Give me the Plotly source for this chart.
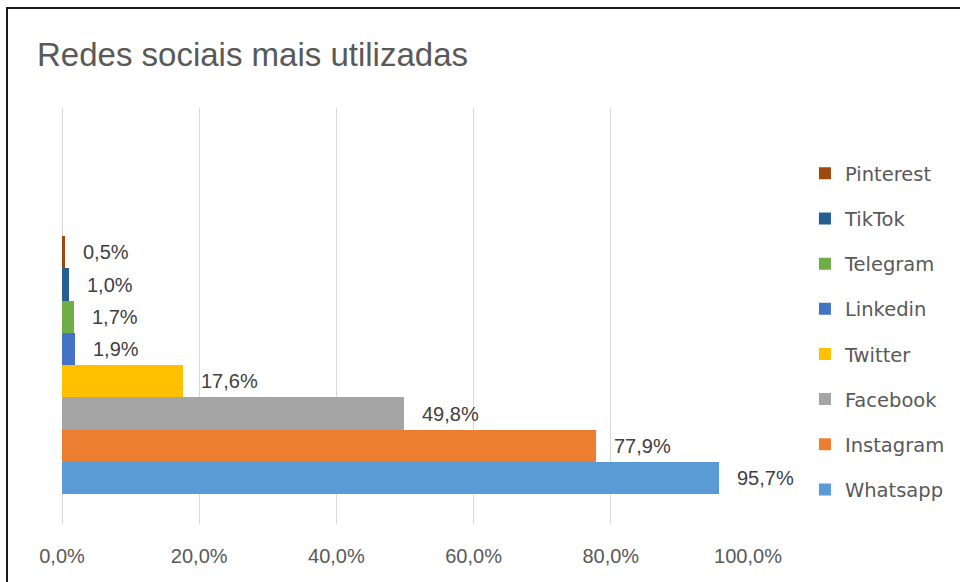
import plotly.graph_objects as go

# Data (bottom to top)
networks = ["Whatsapp", "Instagram", "Facebook", "Twitter", "Linkedin", "Telegram", "TikTok", "Pinterest"]
shares = [0.957, 0.779, 0.498, 0.176, 0.019, 0.017, 0.010, 0.005]
colors = ["#5B9BD5", "#ED7D31", "#A5A5A5", "#FFC000", "#4472C4", "#70AD47", "#255E91", "#9E480E"]
x_ticks = [0, 0.2, 0.4, 0.6, 0.8, 1.0]

TEXT = "#595959"

fig = go.Figure()
# legend lists top-to-bottom: Pinterest ... Whatsapp
for name, val, col in reversed(list(zip(networks, shares, colors))):
    fig.add_trace(go.Bar(
        x=[val], y=[name], orientation="h", name=name,
        marker=dict(color=col, line=dict(width=0)),
        legendgroup=name, hoverinfo="skip",
    ))

annotations = [
    dict(x=val, y=name, xref="x", yref="y", text=f"{val*100:.1f}%".replace(".", ","),
         showarrow=False, xanchor="left", yanchor="middle", xshift=16,
         font=dict(family="Liberation Sans", size=20, color="#404040"))
    for name, val in zip(networks, shares)
]

fig.update_layout(
    width=960, height=582,
    paper_bgcolor="white", plot_bgcolor="white",
    margin=dict(l=62, r=212, t=108, b=58, autoexpand=False),
    barmode="overlay", bargap=0,
    separators=",.",
    title=dict(text="Redes sociais mais utilizadas", x=37/960, xanchor="left",
               xref="container", yref="container", y=1-54/582, yanchor="middle",
               font=dict(family="Liberation Sans", size=33, color=TEXT)),
    xaxis=dict(range=[0, 1.0], tickvals=x_ticks, tickformat=".1%",
               showgrid=True, gridcolor="#D9D9D9", gridwidth=1,
               zeroline=True, zerolinecolor="#D9D9D9", zerolinewidth=1,
               showline=False, ticks="", ticklabelstandoff=18,
               tickfont=dict(family="Liberation Sans", size=20, color=TEXT)),
    yaxis=dict(type="category", categoryorder="array", categoryarray=networks,
               range=[-1.426, 11.474], showticklabels=False, showgrid=False,
               zeroline=False, showline=False, ticks=""),
    legend=dict(x=1.083, xanchor="left", y=0.889, yanchor="top",
                traceorder="grouped", tracegroupgap=16.8,
                font=dict(family="DejaVu Sans", size=19.5, color=TEXT),
                bgcolor="rgba(0,0,0,0)"),
    annotations=annotations,
    shapes=[dict(type="rect", xref="paper", yref="paper",
                 x0=(7-62)/686, x1=1.4, y0=-0.3, y1=(524-8)/416,
                 line=dict(color="#1A1A1A", width=2), fillcolor="rgba(0,0,0,0)",
                 layer="above")],
)

fig.write_html("out.html", config={"displayModeBar": False},
               post_script="document.body.style.margin='0';")
